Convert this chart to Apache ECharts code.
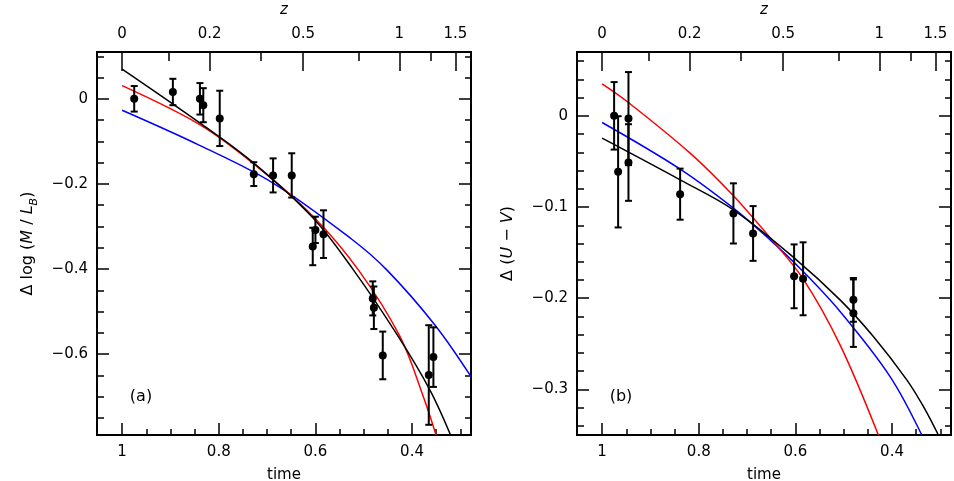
<!DOCTYPE html>
<html>
<head>
<meta charset="utf-8">
<script src="https://cdn.jsdelivr.net/npm/echarts@6/dist/echarts.min.js"></script>
<style>
body{margin:0;background:#fff;}
#main{width:954px;height:481px;}
</style>
</head>
<body>
<div id="main"></div>
<script>
// time axis (reversed), shared by both panels
var tMin = 0.278, tMax = 1.052;
var tMajor = [1, 0.8, 0.6, 0.4];
var tMinor = [0.95, 0.9, 0.85, 0.75, 0.7, 0.65, 0.55, 0.5, 0.45, 0.35, 0.3];
// redshift labels on the top axis, placed at their time values
var zLabels = ['0', '0.2', '0.5', '1', '1.5'];
var zTimes = [1.0, 0.819, 0.6255, 0.4262, 0.3104];
var zMinorTimes = [0.9042, 0.713, 0.511, 0.362];

// panel (a): delta log M/L_B
var aMajor = [0, -0.2, -0.4, -0.6];
var aMinor = [0.1, 0.05, -0.05, -0.1, -0.15, -0.25, -0.3, -0.35, -0.45, -0.5, -0.55, -0.65, -0.7, -0.75];
var aT = [0.975, 0.895, 0.839, 0.832, 0.798, 0.7275, 0.6876, 0.649, 0.6, 0.6055, 0.5833, 0.4813, 0.479, 0.4606, 0.3654, 0.3558];
var aY = [0, 0.016, 0, -0.015, -0.046, -0.177, -0.18, -0.18, -0.308, -0.347, -0.318, -0.469, -0.491, -0.603, -0.649, -0.607];
var aE = [0.03, 0.031, 0.037, 0.04, 0.065, 0.028, 0.04, 0.052, 0.031, 0.044, 0.056, 0.04, 0.05, 0.056, 0.117, 0.07];
var aBlack = [[1, 0.07], [0.8386, -0.057], [0.7275, -0.151], [0.6048, -0.28], [0.5214, -0.402], [0.4283, -0.559], [0.3627, -0.685], [0.3203, -0.79]];
var aRed = [[1, 0.031], [0.8386, -0.061], [0.7275, -0.153], [0.6042, -0.277], [0.5111, -0.402], [0.4248, -0.559], [0.3766, -0.7], [0.3503, -0.79]];
var aBlue = [[1, -0.027], [0.8386, -0.11], [0.6876, -0.198], [0.5247, -0.33], [0.4523, -0.402], [0.3523, -0.532], [0.2779, -0.653]];

// panel (b): delta (U-V)
var bMajor = [0, -0.1, -0.2, -0.3];
var bMinor = [0.06, 0.04, 0.02, -0.02, -0.04, -0.06, -0.08, -0.12, -0.14, -0.16, -0.18, -0.22, -0.24, -0.26, -0.28, -0.32, -0.34];
var bT = [0.9752, 0.9669, 0.9455, 0.9455, 0.8386, 0.7283, 0.6876, 0.6027, 0.5841, 0.48, 0.48];
var bY = [0, -0.0614, -0.003, -0.0512, -0.0859, -0.107, -0.129, -0.176, -0.1787, -0.2018, -0.2164];
var bE = [0.037, 0.061, 0.051, 0.042, 0.028, 0.033, 0.03, 0.035, 0.04, 0.024, 0.037];
var bBlack = [[1, -0.0245], [0.8386, -0.0702], [0.7283, -0.1031], [0.6021, -0.156], [0.5076, -0.2018], [0.4387, -0.242], [0.3695, -0.2895], [0.3352, -0.3187], [0.3042, -0.35]];
var bRed = [[1, 0.0351], [0.9455, 0.0146], [0.8179, -0.0409], [0.7283, -0.0877], [0.6524, -0.1338], [0.5841, -0.1787], [0.5076, -0.2511], [0.4283, -0.35]];
var bBlue = [[1, -0.0073], [0.8386, -0.0584], [0.7283, -0.1012], [0.6524, -0.136], [0.5841, -0.1707], [0.5076, -0.2146], [0.4041, -0.2859], [0.3385, -0.35]];

var FONT = 'DejaVu Sans';
var lab = {color: '#000', fontFamily: FONT, fontSize: 15};
var tickLine = {color: '#000', width: 1.5};
var frame = {onZero: false, lineStyle: {color: '#000', width: 2}};

function minus(v){ return String(v).replace('-', '\u2212'); }

function xAxes(g){
    var base = {type: 'value', gridIndex: g, min: tMin, max: tMax, inverse: true, splitLine: {show: false}, axisLine: frame};
    return [
        Object.assign({}, base, {position: 'bottom', name: 'time', nameLocation: 'middle', nameGap: 33,
            nameTextStyle: {color: '#000', fontFamily: FONT, fontSize: 15},
            axisTick: {inside: true, length: 12, customValues: tMajor, lineStyle: tickLine},
            axisLabel: Object.assign({customValues: tMajor, margin: 10, formatter: minus}, lab)}),
        Object.assign({}, base, {position: 'bottom',
            axisTick: {inside: true, length: 6, customValues: tMinor, lineStyle: tickLine}, axisLabel: {show: false}}),
        Object.assign({}, base, {position: 'top', name: 'z', nameLocation: 'middle', nameGap: 34,
            nameTextStyle: {color: '#000', fontFamily: FONT, fontSize: 15, fontStyle: 'italic'},
            axisTick: {inside: true, length: 19, customValues: zTimes, lineStyle: tickLine},
            axisLabel: Object.assign({customValues: zTimes, margin: 10, formatter: function(v){
                var best = 0;
                for (var i = 0; i < zTimes.length; i++) { if (Math.abs(zTimes[i] - v) < Math.abs(zTimes[best] - v)) best = i; }
                return zLabels[best];
            }}, lab)}),
        Object.assign({}, base, {position: 'top',
            axisTick: {inside: true, length: 9, customValues: zMinorTimes, lineStyle: tickLine}, axisLabel: {show: false}})
    ];
}

function yAxes(g, min, max, major, minor, name){
    var base = {type: 'value', gridIndex: g, min: min, max: max, splitLine: {show: false}, axisLine: frame};
    return [
        Object.assign({}, base, {position: 'left', name: name, nameLocation: 'middle', nameGap: 57, nameRotate: 90,
            nameTextStyle: {color: '#000', fontFamily: FONT, fontSize: 16, rich: {
                n: {fontFamily: FONT, fontSize: 16, color: '#000', lineHeight: 24},
                i: {fontFamily: FONT, fontSize: 16, color: '#000', fontStyle: 'italic', lineHeight: 24},
                s: {fontFamily: FONT, fontSize: 11, color: '#000', fontStyle: 'italic', verticalAlign: 'bottom'}
            }},
            axisTick: {inside: true, length: 12, customValues: major, lineStyle: tickLine},
            axisLabel: Object.assign({customValues: major, margin: 9, formatter: minus}, lab)}),
        Object.assign({}, base, {position: 'left',
            axisTick: {inside: true, length: 7, customValues: minor, lineStyle: tickLine}, axisLabel: {show: false}}),
        Object.assign({}, base, {position: 'right',
            axisTick: {inside: true, length: 12, customValues: major, lineStyle: tickLine}, axisLabel: {show: false}}),
        Object.assign({}, base, {position: 'right',
            axisTick: {inside: true, length: 6, customValues: minor, lineStyle: tickLine}, axisLabel: {show: false}})
    ];
}

function errRender(params, api){
    var x = api.value(0), y = api.value(1), e = api.value(2);
    var hi = api.coord([x, y + e]), lo = api.coord([x, y - e]);
    var c = 3.5, st = {stroke: '#000', lineWidth: 2};
    return {type: 'group', children: [
        {type: 'line', shape: {x1: hi[0], y1: hi[1], x2: lo[0], y2: lo[1]}, style: st},
        {type: 'line', shape: {x1: hi[0] - c, y1: hi[1], x2: hi[0] + c, y2: hi[1]}, style: st},
        {type: 'line', shape: {x1: lo[0] - c, y1: lo[1], x2: lo[0] + c, y2: lo[1]}, style: st}
    ]};
}

function panelSeries(g, T, Y, E, black, red, blue){
    var pts = [], errs = [];
    for (var i = 0; i < T.length; i++) { pts.push([T[i], Y[i]]); errs.push([T[i], Y[i], E[i]]); }
    var ax = {xAxisIndex: g * 4, yAxisIndex: g * 4};
    function curve(d, col){
        return Object.assign({type: 'line', data: d, smooth: 0.35, showSymbol: false, symbol: 'none',
            lineStyle: {color: col, width: 1.5}, silent: true, z: 2}, ax);
    }
    return [
        curve(blue, '#0000ff'),
        curve(red, '#ff0000'),
        curve(black, '#000000'),
        Object.assign({type: 'custom', data: errs, renderItem: errRender, encode: {x: 0, y: 1}, z: 3}, ax),
        Object.assign({type: 'scatter', data: pts, symbol: 'circle', symbolSize: 8, itemStyle: {color: '#000', opacity: 1}, z: 4}, ax)
    ];
}

var chart = echarts.init(document.getElementById('main'));
var option = {
    animation: false,
    backgroundColor: '#fff',
    grid: [
        {left: 97, top: 52, width: 374, height: 383, outerBoundsMode: 'none'},
        {left: 577, top: 52, width: 374, height: 383, outerBoundsMode: 'none'}
    ],
    xAxis: xAxes(0).concat(xAxes(1)),
    yAxis: yAxes(0, -0.79, 0.11, aMajor, aMinor, '{n|\u0394 log (}{i|M}{n| / }{i|L}{s|B}{n|)}')
        .concat(yAxes(1, -0.35, 0.07, bMajor, bMinor, '{n|\u0394 (}{i|U}{n| \u2212 }{i|V}{n|)}')),
    series: panelSeries(0, aT, aY, aE, aBlack, aRed, aBlue)
        .concat(panelSeries(1, bT, bY, bE, bBlack, bRed, bBlue)),
    graphic: [
        {type: 'text', x: 141, y: 397, style: {text: '(a)', font: '16px "DejaVu Sans"', fill: '#000', align: 'center', verticalAlign: 'middle'}},
        {type: 'text', x: 621, y: 397, style: {text: '(b)', font: '16px "DejaVu Sans"', fill: '#000', align: 'center', verticalAlign: 'middle'}}
    ]
};
chart.setOption(option);
</script>
</body>
</html>
